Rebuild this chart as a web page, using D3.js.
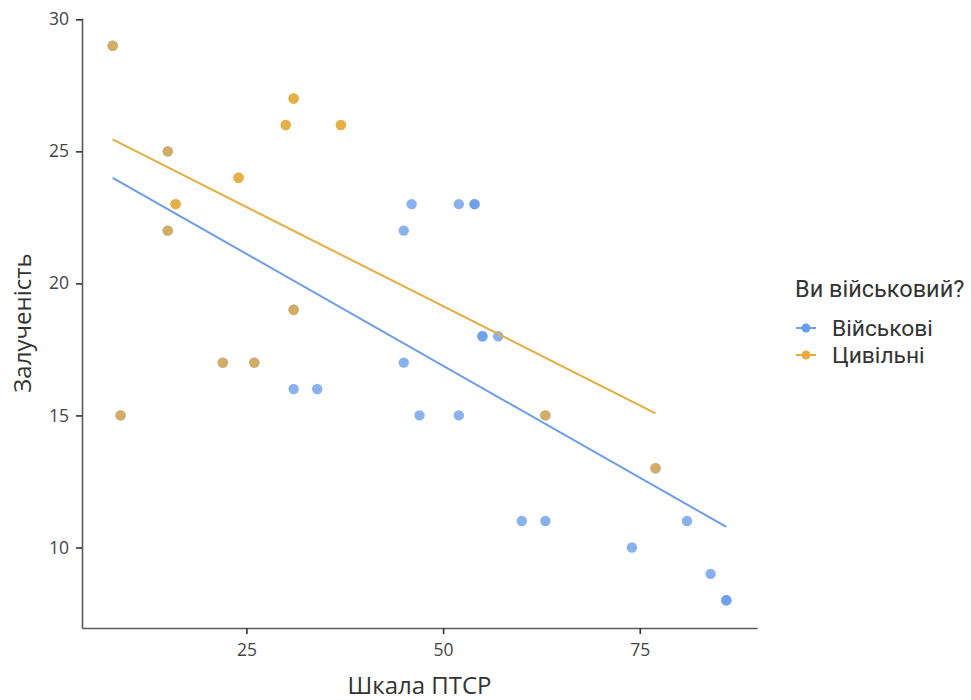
<!DOCTYPE html>
<html>
<head>
<meta charset="utf-8">
<script src="https://cdn.jsdelivr.net/npm/d3@7"></script>
<style>
  html, body { margin: 0; padding: 0; background: #ffffff; }
  svg { display: block; }
  text { font-family: "Open Sans", "Noto Sans", Arial, sans-serif; }
  .legend text { font-family: Roboto, "Open Sans", Arial, sans-serif; }
</style>
</head>
<body>
<svg id="chart" width="971" height="700"></svg>
<script>
// PTSD scale score vs. engagement, split by military status
const groups = ["Військові", "Цивільні"];
const groupColors = ["#6B9DE8", "#E6AC40"];

const militaryX = [31, 34, 45, 46, 45, 47, 52, 54, 54, 52, 55, 55, 57, 60, 63, 74, 81, 84, 86, 86, 8, 9, 15, 15, 22, 26, 31, 63, 77];
const militaryY = [16, 16, 22, 23, 17, 15, 23, 23, 23, 15, 18, 18, 18, 11, 11, 10, 11, 9, 8, 8, 29, 15, 25, 22, 17, 17, 19, 15, 13];
const civilianX = [8, 9, 15, 15, 16, 16, 24, 24, 22, 26, 30, 30, 31, 31, 31, 37, 37, 63, 77];
const civilianY = [29, 15, 25, 22, 23, 23, 24, 24, 17, 17, 26, 26, 27, 27, 19, 26, 26, 15, 13];

// Fitted linear trends (endpoints over each group's range)
const militaryTrendX = [8, 86];
const militaryTrendY = [24.0, 10.78];
const civilianTrendX = [8, 77];
const civilianTrendY = [25.45, 15.08];

const xTicks = [25, 50, 75];
const yTicks = [10, 15, 20, 25, 30];

const xTitle = "Шкала ПТСР";
const yTitle = "Залученість";
const legendTitle = "Ви військовий?";

const series = [
  { name: groups[0], color: groupColors[0], xs: militaryX, ys: militaryY, tx: militaryTrendX, ty: militaryTrendY },
  { name: groups[1], color: groupColors[1], xs: civilianX, ys: civilianY, tx: civilianTrendX, ty: civilianTrendY }
];

const svg = d3.select("#chart");
const panel = { left: 82, right: 757, top: 18, bottom: 628 };

// 5% padding around the data range on both axes
function padded(vals) {
  const [lo, hi] = d3.extent(vals);
  const p = (hi - lo) * 0.05;
  return [lo - p, hi + p];
}
const allX = militaryX.concat(civilianX);
const allY = militaryY.concat(civilianY);

const x = d3.scaleLinear().domain(padded(allX)).range([panel.left, panel.right]);
const y = d3.scaleLinear().domain(padded(allY)).range([panel.bottom, panel.top]);

// Points
series.forEach(s => {
  svg.append("g")
    .selectAll("circle")
    .data(s.xs.map((v, i) => [v, s.ys[i]]))
    .join("circle")
    .attr("cx", d => x(d[0]))
    .attr("cy", d => y(d[1]))
    .attr("r", 5.2)
    .attr("fill", s.color)
    .attr("fill-opacity", 0.8);
});

// Trend lines
const line = d3.line().x(d => x(d[0])).y(d => y(d[1]));
series.forEach(s => {
  svg.append("path")
    .datum(s.tx.map((v, i) => [v, s.ty[i]]))
    .attr("d", line)
    .attr("fill", "none")
    .attr("stroke", s.color)
    .attr("stroke-width", 2);
});

// Axes
const axisColor = "#5a5a5a";
const xAxis = svg.append("g")
  .attr("transform", `translate(0,${panel.bottom})`)
  .call(d3.axisBottom(x).tickValues(xTicks).tickSize(6).tickPadding(10).tickSizeOuter(0));
const yAxis = svg.append("g")
  .attr("transform", `translate(${panel.left},0)`)
  .call(d3.axisLeft(y).tickValues(yTicks).tickSize(6).tickPadding(7).tickSizeOuter(0));

[xAxis, yAxis].forEach(a => {
  a.select(".domain").attr("stroke", axisColor).attr("stroke-width", 1.6);
  a.selectAll(".tick line").attr("stroke", "#333").attr("stroke-width", 1.6);
  a.selectAll(".tick text")
    .attr("fill", "#444")
    .style("font-size", "17.5px")
    .style("font-family", "'Open Sans', 'Noto Sans', Arial, sans-serif");
});

// Axis titles
svg.append("text")
  .attr("x", (panel.left + panel.right) / 2)
  .attr("y", 694)
  .attr("text-anchor", "middle")
  .attr("fill", "#333")
  .style("font-size", "24px")
  .text(xTitle);

svg.append("text")
  .attr("transform", `translate(31,${(panel.top + panel.bottom) / 2}) rotate(-90)`)
  .attr("text-anchor", "middle")
  .attr("fill", "#333")
  .style("font-size", "24px")
  .text(yTitle);

// Legend
const legend = svg.append("g").attr("class", "legend").attr("transform", "translate(795,0)");
legend.append("text")
  .attr("x", 0)
  .attr("y", 297)
  .attr("fill", "#333")
  .style("font-size", "23.5px")
  .text(legendTitle);

const items = legend.selectAll("g.item")
  .data(series)
  .join("g")
  .attr("class", "item")
  .attr("transform", (d, i) => `translate(0,${328 + i * 27})`);

items.append("line")
  .attr("x1", 1).attr("x2", 21)
  .attr("y1", 0).attr("y2", 0)
  .attr("stroke", d => d.color)
  .attr("stroke-width", 2);
items.append("circle")
  .attr("cx", 11).attr("cy", 0).attr("r", 4.5)
  .attr("fill", d => d.color);
items.append("text")
  .attr("x", 37)
  .attr("y", 7.5)
  .attr("fill", "#333")
  .style("font-size", "22.8px")
  .text(d => d.name);
</script>
</body>
</html>
